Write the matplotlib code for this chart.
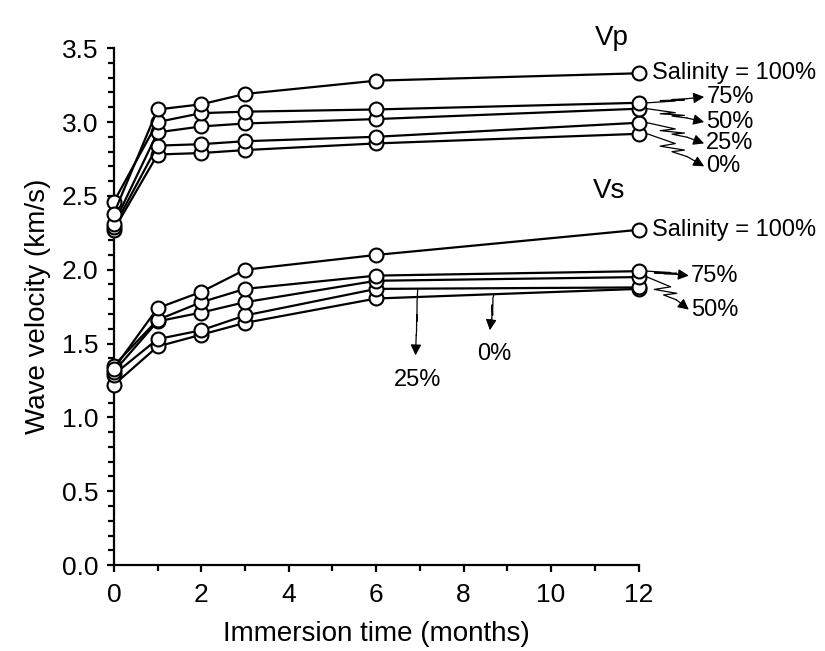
import numpy as np
import matplotlib.pyplot as plt
from matplotlib.ticker import MultipleLocator

plt.rcParams['font.family'] = ['Liberation Sans', 'DejaVu Sans']

# immersion time (months)
months = [0, 1, 2, 3, 6, 12]
salinity = ['100%', '75%', '50%', '25%', '0%']

# P-wave velocity (km/s)
vp_100 = [2.38, 3.085, 3.12, 3.19, 3.28, 3.33]
vp_75 = [2.46, 3.00, 3.06, 3.07, 3.085, 3.13]
vp_50 = [2.31, 2.93, 2.97, 2.99, 3.02, 3.09]
vp_25 = [2.29, 2.84, 2.85, 2.87, 2.90, 2.995]
vp_0 = [2.27, 2.78, 2.79, 2.81, 2.855, 2.92]

# S-wave velocity (km/s)
vs_100 = [1.33, 1.74, 1.85, 2.00, 2.10, 2.27]
vs_75 = [1.35, 1.66, 1.78, 1.87, 1.96, 1.99]
vs_50 = [1.31, 1.65, 1.71, 1.78, 1.925, 1.95]
vs_25 = [1.29, 1.53, 1.59, 1.69, 1.87, 1.88]
vs_0 = [1.22, 1.48, 1.56, 1.64, 1.805, 1.87]

vp = [vp_100, vp_75, vp_50, vp_25, vp_0]
vs = [vs_100, vs_75, vs_50, vs_25, vs_0]

fig = plt.figure(figsize=(8.25, 6.51), dpi=100)
ax = fig.add_axes([0.138, 0.132, 0.636, 0.794])

for series in vs[::-1] + vp[::-1]:
    ax.plot(months, series, color='black', lw=1.6, marker='o', ms=10,
            mfc='white', mec='black', mew=1.5, clip_on=False, zorder=3)

ax.set_xlim(0, 12)
ax.set_ylim(0, 3.5)
ax.xaxis.set_major_locator(MultipleLocator(2))
ax.xaxis.set_minor_locator(MultipleLocator(1))
ax.yaxis.set_major_locator(MultipleLocator(0.5))
ax.yaxis.set_minor_locator(MultipleLocator(0.1))
ax.yaxis.set_major_formatter('{x:.1f}')
for s in ['top', 'right']:
    ax.spines[s].set_visible(False)
ax.spines['left'].set_linewidth(1.6)
ax.spines['bottom'].set_linewidth(1.6)
ax.tick_params(which='major', direction='out', length=5, width=1.6, labelsize=19)
ax.tick_params(axis='x', which='major', pad=8)
ax.tick_params(axis='y', which='major', pad=6)
ax.tick_params(which='minor', direction='out', length=4, width=1.6)
ax.set_xlabel('Immersion time (months)', fontsize=20, labelpad=10)
ax.set_ylabel('Wave velocity (km/s)', fontsize=20, labelpad=8)

# series labels
ax.text(11.0, 3.57, 'Vp', fontsize=20, ha='left', va='center', clip_on=False)
ax.text(10.95, 2.53, 'Vs', fontsize=20, ha='left', va='center', clip_on=False)
ax.text(12.3, vp_100[-1], 'Salinity = 100%', fontsize=17, va='center', clip_on=False)
ax.text(12.3, vs_100[-1], 'Salinity = 100%', fontsize=17, va='center', clip_on=False)


def squiggle(x0, y0, x1, y1, label, tx, ty, horiz=True, ha='left'):
    # wavy leader line with arrow head, ends at label
    t = np.array([0, 0.3, 0.38, 0.5, 0.55, 0.7, 1.0])
    xs = x0 + (x1 - x0) * t
    ys = y0 + (y1 - y0) * t
    if horiz:
        xs = xs + np.array([0, 0.25, -0.2, 0.2, -0.15, 0, 0])
    else:
        ys = ys + np.array([0, 0.05, -0.05, 0.05, -0.04, 0, 0])
    ax.plot(xs[:-1], ys[:-1], color='black', lw=0.9, clip_on=False)
    ax.annotate('', xy=(xs[-1], ys[-1]), xytext=(xs[-2], ys[-2]),
                arrowprops=dict(arrowstyle='-|>', color='black', lw=0.9,
                                mutation_scale=16, shrinkA=0, shrinkB=0),
                annotation_clip=False)
    ax.text(tx, ty, label, fontsize=17, ha=ha, va='center', clip_on=False)


vp_ty = [3.17, 3.00, 2.855, 2.70]
for series, lab, ty in zip(vp[1:], salinity[1:], vp_ty):
    squiggle(12.2, series[-1], 13.5, ty, lab, 13.55, ty)

vs_ty = [1.96, 1.73]
for series, lab, ty in zip(vs[1:3], salinity[1:3], vs_ty):
    squiggle(12.2, series[-1], 13.15, ty, lab, 13.2, ty)

squiggle(6.95, np.interp(6.95, months, vs_25), 6.9, 1.42, '25%', 6.95, 1.25,
         horiz=False, ha='center')
squiggle(8.7, np.interp(8.7, months, vs_0), 8.6, 1.59, '0%', 8.7, 1.43,
         horiz=False, ha='center')

fig.savefig('out.png', dpi=100)
